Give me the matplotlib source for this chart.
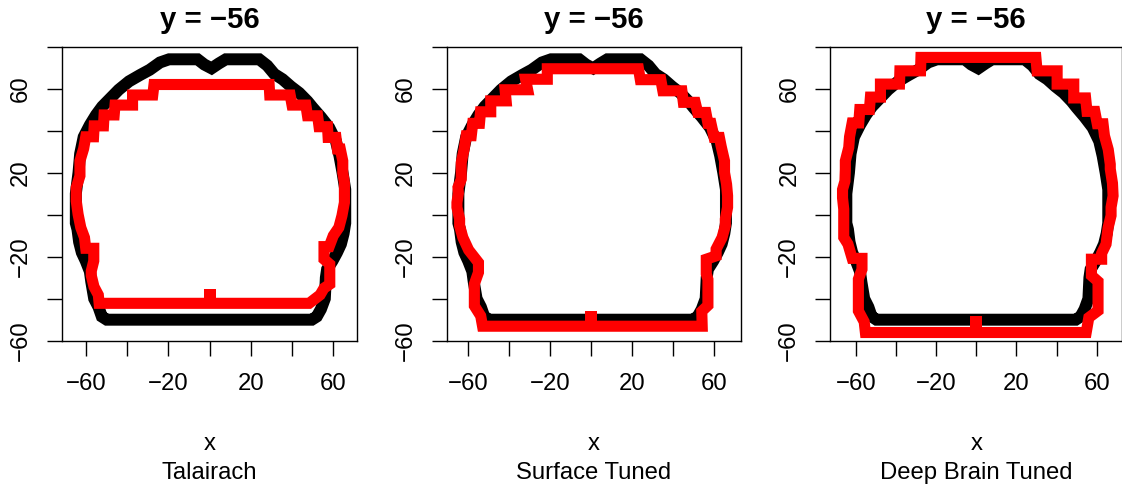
import numpy as np
import matplotlib.pyplot as plt

plt.rcParams['font.family'] = ['Liberation Sans', 'DejaVu Sans']

slice_title = "y = \u221256"
x_label = "x"
panel_names = ["Talairach", "Surface Tuned", "Deep Brain Tuned"]

x_ticks = [-60, -40, -20, 0, 20, 40, 60]
x_tick_labels = ["\u221260", "", "\u221220", "", "20", "", "60"]
y_ticks = [-60, -40, -20, 0, 20, 40, 60, 80]
y_tick_labels = ["\u221260", "", "\u221220", "", "20", "", "60", ""]

# brain outline at this slice (same in every panel), walked clockwise
# from the middle of the bottom edge
black_outline = [
    (0, -50), (-49.8, -50), (-52.2, -48.5), (-53.8, -44), (-55.9, -40),
    (-57.3, -32), (-58, -27), (-60, -22), (-61.9, -18), (-63.2, -13),
    (-64, -7), (-64.8, -4), (-64.8, 10), (-63.5, 20), (-62.7, 29),
    (-61, 37), (-58, 42.7), (-55, 47.5), (-52, 51.5), (-48, 55.5),
    (-44, 59.5), (-39, 63.5), (-33.7, 66.5), (-29, 69), (-24, 72.5),
    (-19.6, 74), (-5.8, 74), (-2.5, 71.5), (1, 69.7), (4.5, 72),
    (7.9, 74), (24.1, 74), (28, 71), (31.4, 67), (35.4, 64.5),
    (39.5, 61), (43.5, 58), (47.5, 54), (50, 51), (54, 46.5),
    (58, 41.5), (61.3, 35), (63, 28), (64.5, 20), (65.8, 12),
    (65.8, -4), (65, -9), (63.7, -14), (61.8, -18), (59.6, -22),
    (57, -26), (56.4, -30), (55.9, -40), (54, -45), (52, -48.5),
    (49.6, -50), (0, -50),
]

# registered atlas outline for each method
red_talairach = [
    (0, -42.2), (-53.5, -42.2), (-53.9, -38.2), (-56, -34.3), (-57.3, -29),
    (-57.3, -26.8), (-56.1, -22), (-56.1, -16), (-60, -16), (-60.6, -10.9),
    (-62.4, -6.1), (-63.7, 0.2), (-64.6, 6.6), (-64.6, 12.9), (-62.8, 18.5),
    (-62.8, 25.6), (-61, 31.5), (-60, 37.1), (-56.2, 37.1), (-55.9, 42.3),
    (-51.4, 42.3), (-51.1, 47.5), (-46.2, 47.5), (-45.8, 52.2), (-37.3, 52.2),
    (-37.3, 57), (-27.5, 57), (-26.9, 62), (28.9, 62), (29.2, 57),
    (39.1, 57), (40, 52.2), (46.7, 52.2), (47.5, 47.1), (52.4, 47.1),
    (53.1, 41.9), (57.2, 41.9), (57.5, 36.8), (61.3, 36.8), (62, 31.3),
    (63.4, 31.3), (64.6, 25.6), (64.6, 20), (65.4, 15.3), (65.4, 5.8),
    (64.2, -0.5), (62.7, -6.1), (60, -10), (58, -15.2), (55.5, -15.2),
    (55.5, -21.2), (58.3, -23.6), (58.3, -33.1), (55.5, -35), (53.6, -38.2),
    (48.3, -42.2), (0, -42.2),
]

red_surface = [
    (0, -53.1), (-53, -53.1), (-53.9, -48.2), (-57, -43.4), (-57, -33),
    (-55, -27.5), (-55, -22.8), (-59.8, -16.8), (-62.6, -10.9), (-64.2, -5.3),
    (-64.2, -2.1), (-65.5, 3.5), (-65.5, 5.8), (-64.8, 10.2), (-65, 13),
    (-63.4, 16.9), (-63.4, 24.8), (-62, 31.2), (-61, 37.6), (-58.5, 37.6),
    (-57.8, 43.5), (-54.5, 43.5), (-54, 49), (-49, 49), (-49, 54.2),
    (-41.5, 54.2), (-42, 59.5), (-31, 59.5), (-32, 64.5), (-21.4, 64.5),
    (-21.4, 69.5), (23.1, 69.5), (24, 64.3), (34, 64.3), (35, 59),
    (44.3, 59), (45, 53.5), (50.8, 53.5), (52, 48.7), (56, 48.7),
    (57, 43.5), (58.5, 43.5), (60, 36.8), (62.6, 36.8), (63.5, 32.4),
    (65.1, 25.6), (65.1, 20.1), (66.1, 14.5), (66.6, 9), (66.6, 3.5),
    (65.5, -2.1), (65.5, -5.3), (63.9, -10.9), (61, -16.4), (61, -19.6),
    (56.2, -21.2), (56.2, -28.2), (57, -30.8), (57, -43.2), (54, -46),
    (54.2, -53.1), (0, -53.1),
]

red_deep = [
    (0, -56.1), (-55.3, -56.1), (-55.9, -51), (-58.8, -45.8), (-58.8, -30.7),
    (-57, -26), (-57, -20.8), (-61.9, -20.8), (-64, -14), (-66.1, -10.8),
    (-66.1, 2.6), (-66.7, 8), (-66.7, 12), (-65.5, 16), (-65.3, 21.6),
    (-65.3, 25.6), (-63.6, 32), (-63.2, 37.1), (-61.9, 43.7), (-58.6, 43.7),
    (-58.1, 50.1), (-53.3, 50.1), (-52.8, 56), (-47.8, 56), (-47.8, 62.2),
    (-38.3, 62.2), (-38.1, 68.5), (-27.8, 68.5), (-27.6, 74.9), (29.7, 74.9),
    (30.3, 68.5), (40.3, 68.5), (40.3, 62.2), (48.6, 62.2), (48.6, 55.6),
    (54.5, 55.6), (55.2, 49.2), (59.1, 49.2), (60.3, 43.3), (63.2, 43.3),
    (63.9, 37.6), (65.8, 31), (66.8, 24), (66.8, 21.8), (67.9, 15),
    (68.2, 9), (67.2, 3.5), (67.2, -0.4), (65.7, -6.3), (64.7, -14),
    (62.5, -18.4), (62.5, -21.2), (57.4, -21.2), (57.4, -29), (60.7, -31.8),
    (60.7, -45.7), (56.1, -49), (54.8, -56.1), (0, -56.1),
]

red_outlines = [red_talairach, red_surface, red_deep]

# single landmark voxel on the bottom edge of each red outline
mark_x = [0, 0, 0]
mark_y = [-38.2, -48.5, -51.0]

W, H = 1122, 488
fig = plt.figure(figsize=(W / 100, H / 100), dpi=100)

box_left = [62, 446.7, 830.3]
box_right = [357, 740.7, 1122.3]
box_top, box_bottom = 46.7, 340.7
xlims = [(-71.5, 71.5), (-70.5, 73.0), (-72.8, 72.8)]
black_lw = 8.6
red_lw = 8.0

for i in range(3):
    l, r = box_left[i], box_right[i]
    ax = fig.add_axes([l / W, (H - box_bottom) / H, (r - l) / W, (box_bottom - box_top) / H])

    b = np.array(black_outline)
    ax.plot(b[:, 0], b[:, 1], color='black', lw=black_lw,
            solid_joinstyle='miter', solid_capstyle='butt')
    rd = np.array(red_outlines[i])
    ax.plot(rd[:, 0], rd[:, 1], color='red', lw=red_lw,
            solid_joinstyle='miter', solid_capstyle='butt')
    ax.plot(mark_x[i], mark_y[i], 's', color='red', ms=red_lw, mew=0)

    ax.set_xlim(*xlims[i])
    ax.set_ylim(-60, 80)
    ax.set_xticks(x_ticks)
    ax.set_xticklabels(x_tick_labels)
    ax.set_yticks(y_ticks)
    ax.set_yticklabels(y_tick_labels, rotation=90, va='center')
    ax.tick_params(direction='out', length=10.8, width=1.0, labelsize=17.2, color='black')
    ax.tick_params(axis='x', pad=12.2)
    ax.tick_params(axis='y', pad=10.8)
    for s in ax.spines.values():
        s.set_linewidth(1.0)

    cx = (l + r) / 2 / W
    fig.text(cx, 1 - 27.7 / H, slice_title, ha='center', va='baseline',
             fontsize=21.2, fontweight='bold')
    fig.text(cx, 1 - 450 / H, x_label, ha='center', va='baseline', fontsize=17.2)
    fig.text(cx, 1 - 479.3 / H, panel_names[i], ha='center', va='baseline', fontsize=17.2)

fig.savefig('out.png', dpi=100)
